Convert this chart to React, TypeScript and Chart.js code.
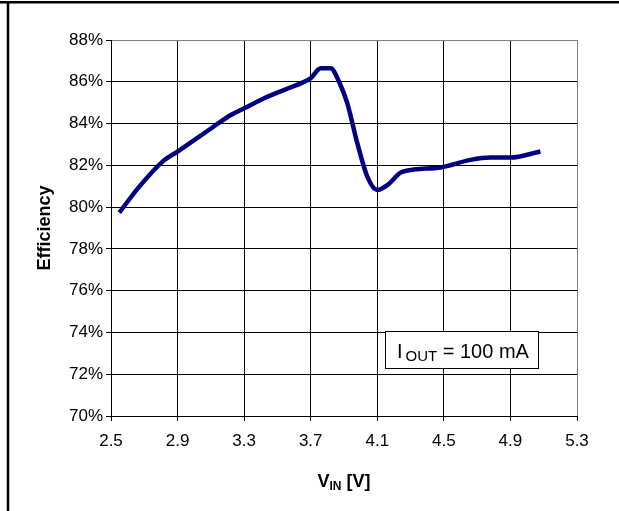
import React, { useEffect, useRef } from "react";
import { Chart, registerables } from "chart.js";

Chart.register(...registerables);

const vin = [2.55, 2.67, 2.81, 2.9, 3.03, 3.13, 3.22, 3.3, 3.42, 3.55, 3.65, 3.7, 3.76, 3.82, 3.87, 3.92, 3.98, 4.04, 4.1, 4.16, 4.24, 4.32, 4.48, 4.66, 4.78, 4.9, 5.08];
const efficiency = [79.74, 80.98, 82.18, 82.66, 83.37, 83.93, 84.41, 84.73, 85.21, 85.64, 85.96, 86.17, 86.65, 86.65, 86.0, 84.97, 83.06, 81.46, 80.82, 81.05, 81.65, 81.8, 81.9, 82.26, 82.37, 82.37, 82.66];
const xTicks = [2.5, 2.9, 3.3, 3.7, 4.1, 4.5, 4.9, 5.3];
const yTicks = [70, 72, 74, 76, 78, 80, 82, 84, 86, 88];
const yTitle = "Efficiency";
const xTitleMain = "V";
const xTitleSub = "IN";
const xTitleRest = " [V]";
const noteMain = "I";
const noteSub = "OUT";
const noteRest = " = 100 mA";

const FONT = "'Liberation Sans', Arial, Helvetica, sans-serif";

const decorPlugin = {
  id: "decor",
  beforeDraw(chart: any) {
    const ctx = chart.ctx;
    ctx.save();
    ctx.fillStyle = "#fff";
    ctx.fillRect(0, 0, chart.width, chart.height);
    ctx.restore();
  },
  afterDraw(chart: any) {
    const ctx = chart.ctx;
    const area = chart.chartArea;
    ctx.save();
    // frame
    ctx.strokeStyle = "#000";
    ctx.lineWidth = 2.5;
    ctx.beginPath();
    ctx.moveTo(0, 2.2);
    ctx.lineTo(chart.width, 2.2);
    ctx.moveTo(8, 2);
    ctx.lineTo(8, chart.height);
    ctx.stroke();

    // y title
    ctx.fillStyle = "#000";
    ctx.font = `bold 18px ${FONT}`;
    ctx.textAlign = "center";
    ctx.textBaseline = "middle";
    ctx.save();
    ctx.translate(45, (area.top + area.bottom) / 2);
    ctx.rotate(-Math.PI / 2);
    ctx.fillText(yTitle, 0, 0);
    ctx.restore();

    // x title with subscript
    ctx.textAlign = "left";
    ctx.textBaseline = "alphabetic";
    const bigX = `bold 18px ${FONT}`;
    const smallX = `bold 12px ${FONT}`;
    ctx.font = bigX;
    const w1 = ctx.measureText(xTitleMain).width;
    const w3 = ctx.measureText(xTitleRest).width;
    ctx.font = smallX;
    const w2 = ctx.measureText(xTitleSub).width;
    const total = w1 + w2 + w3;
    let x = (area.left + area.right) / 2 - total / 2;
    const by = 487;
    ctx.font = bigX;
    ctx.fillText(xTitleMain, x, by);
    x += w1;
    ctx.font = smallX;
    ctx.fillText(xTitleSub, x, by + 3);
    x += w2;
    ctx.font = bigX;
    ctx.fillText(xTitleRest, x, by);

    // annotation box
    const bx = chart.scales.x.getPixelForValue(4.146);
    const bx2 = chart.scales.x.getPixelForValue(5.066);
    const byTop = chart.scales.y.getPixelForValue(74.05);
    const byBot = chart.scales.y.getPixelForValue(72.3);
    ctx.fillStyle = "#fff";
    ctx.fillRect(bx, byTop, bx2 - bx, byBot - byTop);
    ctx.strokeStyle = "#000";
    ctx.lineWidth = 1;
    ctx.strokeRect(Math.round(bx) + 0.5, Math.round(byTop) + 0.5, Math.round(bx2 - bx), Math.round(byBot - byTop));
    ctx.fillStyle = "#000";
    const bigN = `20px ${FONT}`;
    const smallN = `15px ${FONT}`;
    let nx = bx + 12;
    const ny = byBot - 10;
    ctx.font = bigN;
    ctx.fillText(noteMain, nx, ny);
    nx += ctx.measureText(noteMain).width + 3;
    ctx.font = smallN;
    ctx.fillText(noteSub, nx, ny + 3);
    nx += ctx.measureText(noteSub).width;
    ctx.font = bigN;
    ctx.fillText(noteRest, nx, ny);
    ctx.restore();
  },
};

export default function App() {
  const ref = useRef<HTMLCanvasElement | null>(null);
  useEffect(() => {
    document.body.style.margin = "0";
    const canvas = ref.current;
    if (!canvas) return;
    const chart = new Chart(canvas, {
      type: "line",
      data: {
        datasets: [
          {
            data: vin.map((v, i) => ({ x: v, y: efficiency[i] })),
            borderColor: "#000080",
            borderWidth: 4.5,
            pointRadius: 0,
            fill: false,
            cubicInterpolationMode: "monotone",
          },
        ],
      },
      options: {
        animation: false,
        responsive: false,
        devicePixelRatio: 1,
        layout: { padding: { left: 0, top: 40, right: 42, bottom: 0 } },
        plugins: { legend: { display: false }, tooltip: { enabled: false } },
        scales: {
          x: {
            type: "linear",
            min: xTicks[0],
            max: xTicks[xTicks.length - 1],
            afterBuildTicks: (scale: any) => {
              scale.ticks = xTicks.map((v) => ({ value: v }));
            },
            afterFit: (scale: any) => {
              scale.height = 95;
            },
            ticks: {
              color: "#000",
              font: { family: FONT, size: 17 },
              padding: 10,
              callback: (v: any) => Number(v).toFixed(1),
              maxRotation: 0,
            },
            grid: {
              color: (c: any) => (c.index === xTicks.length - 1 ? "#808080" : "#000"),
              lineWidth: 1,
              tickLength: 5,
              tickColor: "#000",
            },
            border: { color: "#000", width: 1 },
          },
          y: {
            type: "linear",
            min: yTicks[0],
            max: yTicks[yTicks.length - 1],
            afterBuildTicks: (scale: any) => {
              scale.ticks = yTicks.map((v) => ({ value: v }));
            },
            afterFit: (scale: any) => {
              scale.width = 111;
            },
            ticks: {
              color: "#000",
              font: { family: FONT, size: 17 },
              padding: 3,
              callback: (v: any) => `${v}%`,
            },
            grid: {
              color: (c: any) => (c.index === yTicks.length - 1 ? "#808080" : "#000"),
              lineWidth: 1,
              tickLength: 5,
              tickColor: "#000",
            },
            border: { color: "#000", width: 1 },
          },
        },
      },
      plugins: [decorPlugin],
    } as any);
    return () => chart.destroy();
  }, []);
  return (
    <div style={{ width: 619, height: 511 }}>
      <canvas ref={ref} width={619} height={511} style={{ display: "block", width: 619, height: 511 }} />
    </div>
  );
}
